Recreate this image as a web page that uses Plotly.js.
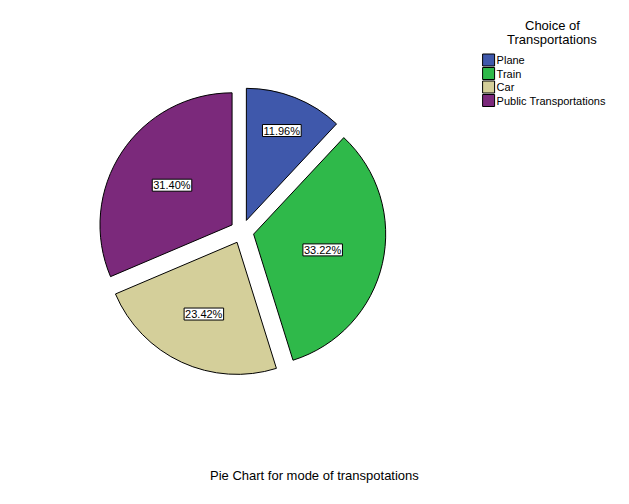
<!DOCTYPE html>
<html>
<head>
<meta charset="utf-8">
<script src="https://cdn.plot.ly/plotly-3.0.1.min.js"></script>
<style>html,body{margin:0;padding:0;background:#fff;}#chart{width:629px;height:504px;}</style>
</head>
<body>
<div id="chart"></div>
<script>
const categories = ["Plane", "Train", "Car", "Public Transportations"];
const percentages = [11.96, 33.22, 23.42, 31.40];
const sliceColors = ["#3f58ab", "#2fb94a", "#d4cf9a", "#7b297b"];
const legendTitleLines = ["Choice of", "Transportations"];
const caption = "Pie Chart for mode of transpotations";

const FONT = "Liberation Sans, Arial, sans-serif";

const trace = {
  type: "pie",
  labels: categories,
  values: percentages,
  sort: false,
  direction: "clockwise",
  rotation: 0,
  pull: categories.map(() => 0.09),
  marker: { colors: sliceColors, line: { color: "#000", width: 1 } },
  texttemplate: "%{percent:.2%}",
  textposition: "inside",
  insidetextorientation: "horizontal",
  textfont: { family: FONT, size: 11, color: "#000" },
  hoverinfo: "label+percent",
  domain: { x: [0.1558, 0.6137], y: [0.255, 0.8264] }
};

const titleAnnots = legendTitleLines.map((line, i) => ({
  text: line, xref: "paper", yref: "paper",
  x: 552 / 629, y: 1 - (25.5 + i * 14.5) / 504,
  xanchor: "center", yanchor: "middle", showarrow: false,
  font: { size: 13, color: "#000", family: FONT }
}));

const layout = {
  width: 629, height: 504,
  margin: { l: 0, r: 0, t: 0, b: 0 },
  paper_bgcolor: "#fff",
  font: { family: FONT, color: "#000" },
  showlegend: true,
  legend: {
    x: 0.745, y: 1 - 45.5 / 504, xanchor: "left", yanchor: "top",
    bgcolor: "rgba(0,0,0,0)",
    font: { size: 11, color: "#000" },
    traceorder: "normal"
  },
  annotations: titleAnnots.concat([{
    text: caption, xref: "paper", yref: "paper", x: 0.5, y: 1 - 475 / 504,
    xanchor: "center", yanchor: "middle", showarrow: false,
    font: { size: 13, color: "#000", family: FONT }
  }])
};

Plotly.newPlot("chart", [trace], layout, { displayModeBar: false, staticPlot: true }).then(gd => {
  // white box with black border behind each percentage label
  gd.querySelectorAll("g.slicetext").forEach(g => {
    const t = g.querySelector("text");
    if (!t) return;
    const bb = t.getBBox();
    const r = document.createElementNS("http://www.w3.org/2000/svg", "rect");
    r.setAttribute("x", bb.x - 1);
    r.setAttribute("y", bb.y);
    r.setAttribute("width", bb.width + 2);
    r.setAttribute("height", bb.height);
    r.setAttribute("fill", "#fff");
    r.setAttribute("stroke", "#000");
    r.setAttribute("stroke-width", "1");
    const tr = t.getAttribute("transform");
    if (tr) r.setAttribute("transform", tr);
    g.insertBefore(r, t);
  });
  // tighten legend entries to match compact layout
  const items = gd.querySelectorAll("g.legend g.traces");
  let ty0 = null;
  items.forEach((g, i) => {
    const m = /translate\(\s*([-\d.e]+)[ ,]+([-\d.e]+)\s*\)/.exec(g.getAttribute("transform") || "");
    if (!m) return;
    const tx = parseFloat(m[1]), ty = parseFloat(m[2]);
    if (ty0 === null) ty0 = ty;
    g.setAttribute("transform", `translate(${tx},${ty0 + i * 13.5})`);
    const txt = g.querySelector("text.legendtext");
    if (txt) {
      txt.setAttribute("x", 28);
      txt.querySelectorAll("tspan").forEach(s => { if (s.getAttribute("x")) s.setAttribute("x", 28); });
    }
  });
});
</script>
</body>
</html>
